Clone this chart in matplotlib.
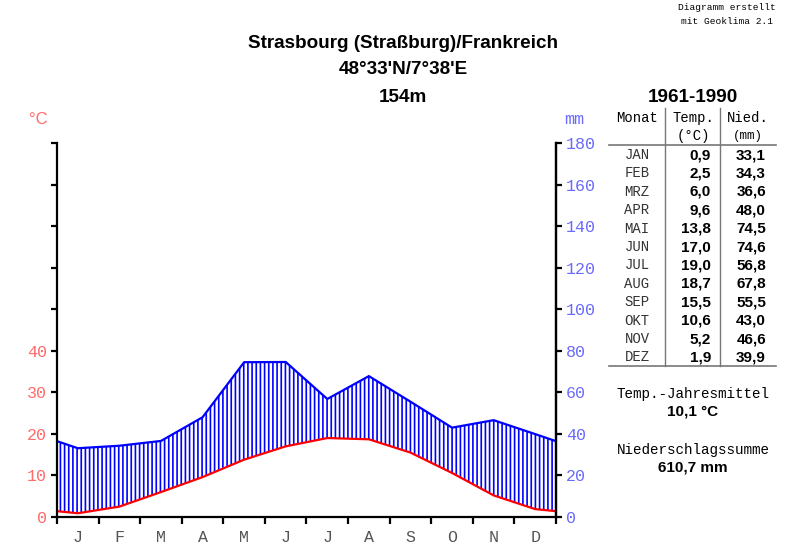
import matplotlib.pyplot as plt
import numpy as np

months = ['JAN', 'FEB', 'MRZ', 'APR', 'MAI', 'JUN', 'JUL', 'AUG', 'SEP', 'OKT', 'NOV', 'DEZ']
month_letters = ['J', 'F', 'M', 'A', 'M', 'J', 'J', 'A', 'S', 'O', 'N', 'D']
temp = [0.9, 2.5, 6.0, 9.6, 13.8, 17.0, 19.0, 18.7, 15.5, 10.6, 5.2, 1.9]
prec = [33.1, 34.3, 36.6, 48.0, 74.5, 74.6, 56.8, 67.8, 55.5, 43.0, 46.6, 39.9]
temp_labels = ['0,9', '2,5', '6,0', '9,6', '13,8', '17,0', '19,0', '18,7', '15,5', '10,6', '5,2', '1,9']
prec_labels = ['33,1', '34,3', '36,6', '48,0', '74,5', '74,6', '56,8', '67,8', '55,5', '43,0', '46,6', '39,9']

W, H = 800, 548
RED_TXT = '#ff6a6a'
BLUE_TXT = '#6a6aff'
MONO = 'Liberation Mono'
SANS = 'Liberation Sans'

plt.rcParams['hatch.linewidth'] = 1.2
plt.rcParams['hatch.color'] = 'blue'

fig = plt.figure(figsize=(W / 100, H / 100), dpi=100)


def px(x, y):
    # pixel coords (from top-left) -> figure fraction
    return x / W, 1 - y / H


ax = fig.add_axes([57 / W, 31 / H, (556 - 57) / W, (517 - 143) / H])

# wrap around the year so the curve enters/leaves at the edges
x = np.arange(-0.5, 13.0, 1.0)
t = np.array([temp[-1]] + temp + [temp[0]])
p = np.array([prec[-1]] + prec + [prec[0]]) / 2.0  # 10 °C = 20 mm

ax.fill_between(x, t, p, facecolor='white', edgecolor='blue', hatch='||||', linewidth=0)
ax.plot(x, p, color='blue', lw=1.6, solid_joinstyle='miter')
ax.plot(x, t, color='red', lw=1.6)

ax.set_xlim(0, 12)
ax.set_ylim(0, 90)

ax.spines['top'].set_visible(False)
for s in ['left', 'right', 'bottom']:
    ax.spines[s].set_linewidth(1.6)

ax.set_yticks(np.arange(0, 91, 10))
ax.set_yticklabels(['0', '10', '20', '30', '40', '', '', '', '', ''])
ax.tick_params(axis='y', direction='out', length=4, width=1.6, colors='black',
               labelcolor=RED_TXT, labelsize=12, pad=3)
for lab in ax.get_yticklabels():
    lab.set_family(MONO)

ax.set_xticks(np.arange(0, 13, 1))
ax.set_xticklabels([])
ax.set_xticks(np.arange(0.5, 12, 1), minor=True)
ax.set_xticklabels(month_letters, minor=True, family=MONO, fontsize=12, color='#555555')
ax.tick_params(axis='x', which='major', direction='out', length=5, width=1.6)
ax.tick_params(axis='x', which='minor', length=0, pad=9)

ax2 = ax.twinx()
ax2.set_ylim(0, 180)
ax2.set_yticks(np.arange(0, 181, 20))
ax2.tick_params(axis='y', direction='out', length=4, width=1.6, colors='black',
                labelcolor=BLUE_TXT, labelsize=12, pad=3)
for lab in ax2.get_yticklabels():
    lab.set_family(MONO)
for s in ['top', 'left', 'bottom']:
    ax2.spines[s].set_visible(False)
ax2.spines['right'].set_linewidth(1.6)

# axis units
fig.text(*px(38, 119), '°C', color=RED_TXT, family=SANS, fontsize=12, ha='center', va='center')
fig.text(*px(574, 119), 'mm', color=BLUE_TXT, family=MONO, fontsize=12, ha='center', va='center')

# title
for yy, s in zip([43, 70, 97], ['Strasbourg (Straßburg)/Frankreich', "48°33'N/7°38'E", '154m']):
    fig.text(*px(403, yy), s, family=SANS, weight='bold', fontsize=13.6, ha='center', va='center')

fig.text(*px(727, 7), 'Diagramm erstellt', family=MONO, fontsize=6.8, ha='center', va='center')
fig.text(*px(727, 21), 'mit Geoklima 2.1', family=MONO, fontsize=6.8, ha='center', va='center')

# table
fig.text(*px(693, 97), '1961-1990', family=SANS, weight='bold', fontsize=13.6, ha='center', va='center')
fig.text(*px(637, 118), 'Monat', family=MONO, fontsize=10, ha='center', va='center')
fig.text(*px(693, 118), 'Temp.', family=MONO, fontsize=10, ha='center', va='center')
fig.text(*px(748, 118), 'Nied.', family=MONO, fontsize=10, ha='center', va='center')
fig.text(*px(693, 136), '(°C)', family=MONO, fontsize=10, ha='center', va='center')
fig.text(*px(748, 136), '(mm)', family=MONO, fontsize=9, ha='center', va='center')

grey = '#777777'
fig.add_artist(plt.Line2D([609 / W, 776 / W], [1 - 145 / H] * 2, color=grey, lw=1.2))
fig.add_artist(plt.Line2D([609 / W, 776 / W], [1 - 366 / H] * 2, color=grey, lw=1.2))
fig.add_artist(plt.Line2D([665 / W] * 2, [1 - 108 / H, 1 - 366 / H], color=grey, lw=1.0))
fig.add_artist(plt.Line2D([720 / W] * 2, [1 - 108 / H, 1 - 366 / H], color=grey, lw=1.0))

for i, m in enumerate(months):
    yy = 155 + i * 18.4
    fig.text(*px(637, yy), m, family=MONO, fontsize=10, ha='center', va='center', color='#333333')
    fig.text(*px(711, yy), temp_labels[i], family=SANS, weight='bold', fontsize=11, ha='right', va='center')
    fig.text(*px(766, yy), prec_labels[i], family=SANS, weight='bold', fontsize=11, ha='right', va='center')

fig.text(*px(693, 394), 'Temp.-Jahresmittel', family=MONO, fontsize=10.3, ha='center', va='center')
fig.text(*px(693, 411), '10,1 °C', family=SANS, weight='bold', fontsize=11, ha='center', va='center')
fig.text(*px(693, 450), 'Niederschlagssumme', family=MONO, fontsize=10.3, ha='center', va='center')
fig.text(*px(693, 467), '610,7 mm', family=SANS, weight='bold', fontsize=11, ha='center', va='center')

fig.savefig('out.png', dpi=100)
